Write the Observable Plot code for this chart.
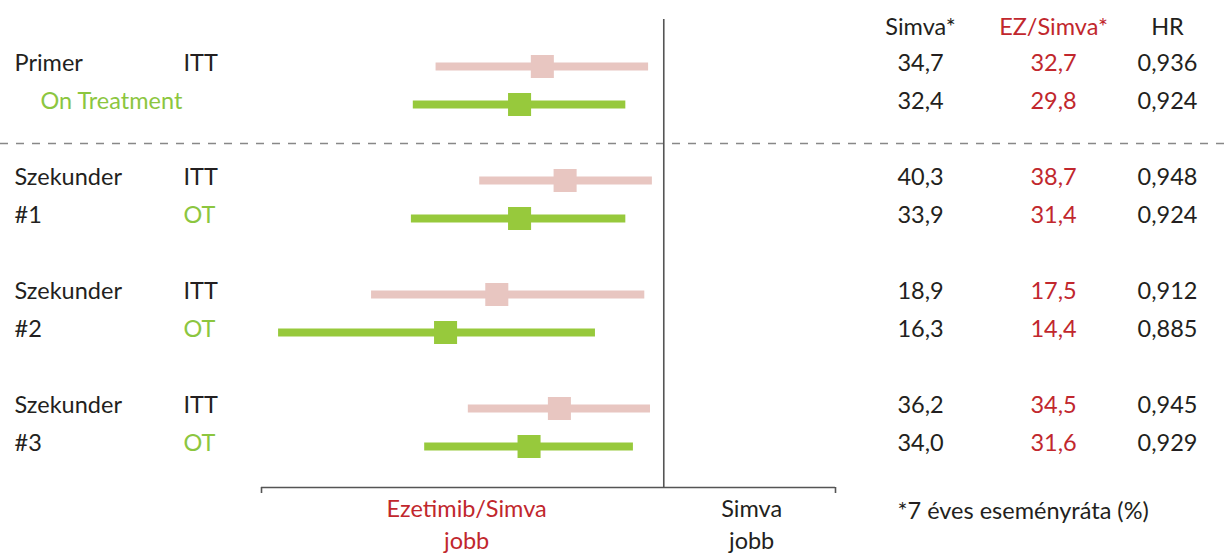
<!DOCTYPE html>
<html>
<head>
<meta charset="utf-8">
<script src="https://cdn.jsdelivr.net/npm/d3@7"></script>
<script src="https://cdn.jsdelivr.net/npm/@observablehq/plot@0.6"></script>
<style>
  html, body { margin: 0; padding: 0; background: #fff; }
  #chart svg { display: block; }
</style>
</head>
<body>
<div id="chart"></div>
<script>
// ---- data ----
const rowIds = ["P-ITT", "P-OT", "S1-ITT", "S1-OT", "S2-ITT", "S2-OT", "S3-ITT", "S3-OT"];
const groupLabels = ["Primer", "", "Szekunder", "#1", "Szekunder", "#2", "Szekunder", "#3"];
const popLabels = ["ITT", "On Treatment", "ITT", "OT", "ITT", "OT", "ITT", "OT"];
const population = ["ITT", "OT", "ITT", "OT", "ITT", "OT", "ITT", "OT"];
const hr = [0.936, 0.924, 0.948, 0.924, 0.912, 0.885, 0.945, 0.929];
const ciLow = [0.880, 0.868, 0.903, 0.867, 0.846, 0.797, 0.897, 0.874];
const ciHigh = [0.992, 0.980, 0.994, 0.980, 0.990, 0.964, 0.993, 0.984];
const simvaRate = [34.7, 32.4, 40.3, 33.9, 18.9, 16.3, 36.2, 34.0];
const ezSimvaRate = [32.7, 29.8, 38.7, 31.4, 17.5, 14.4, 34.5, 31.6];
const headers = ["Simva*", "EZ/Simva*", "HR"];
const xDomain = [0.788, 1.0905];
const betterLabels = ["Ezetimib/Simva\njobb", "Simva\njobb"];
const footnote = "*7 éves eseményráta (%)";

// ---- styling ----
const dark = "#231f20";
const red = "#c1272d";
const green = "#8cc63f";
const colors = {ITT: "#e8c6c1", OT: "#97c93c"};
const fs = 23.5;
const font = "Lato, 'Open Sans', sans-serif";

const rows = rowIds.map((id, i) => ({
  id, group: groupLabels[i], pop: popLabels[i], population: population[i],
  hr: hr[i], lo: ciLow[i], hi: ciHigh[i],
  simva: simvaRate[i], ez: ezSimvaRate[i]
}));

const yDomain = ["hdr", "P-ITT", "P-OT", "gap1", "S1-ITT", "S1-OT", "gap2",
                 "S2-ITT", "S2-OT", "gap3", "S3-ITT", "S3-OT", "axis"];

const fmt1 = v => v.toFixed(1).replace(".", ",");
const fmt3 = v => v.toFixed(3).replace(".", ",");

const colX = [920, 1053, 1167];
const headerData = headers.map((h, i) => ({h, i}));

const chart = Plot.plot({
  width: 1232,
  height: 554,
  marginLeft: 0,
  marginRight: 0,
  marginTop: 19,
  marginBottom: 67,
  style: {fontFamily: font, fontSize: fs + "px", color: dark, background: "#fff"},
  x: {domain: xDomain, range: [261, 835], axis: null},
  y: {type: "point", domain: yDomain, range: [25, 481], padding: 0, axis: null},
  marks: [
    // dashed separator between primary and secondary
    Plot.ruleY(["gap1"], {stroke: "#888", strokeWidth: 1.5, strokeDasharray: "8,8", dy: 4}),
    // reference line at HR = 1
    Plot.ruleX([1], {stroke: "#555", strokeWidth: 1.6}),
    // axis line and end ticks
    Plot.ruleY(["axis"], {x1: xDomain[0], x2: xDomain[1], stroke: "#555", strokeWidth: 1.6, dy: 6}),
    Plot.axisX({ticks: xDomain, tickSize: 6, tickFormat: () => "", stroke: "#555", strokeWidth: 1.6}),
    // confidence intervals
    Plot.ruleY(rows, {y: "id", x1: "lo", x2: "hi", stroke: d => colors[d.population], strokeWidth: 8, dy: 3}),
    // point estimates
    Plot.dot(rows, {y: "id", x: "hr", symbol: "square", r: 13, fill: d => colors[d.population], stroke: null, dy: 3}),
    // left labels
    Plot.text(rows.filter(d => d.group), {y: "id", text: "group", frameAnchor: "left", dx: 14, textAnchor: "start", fill: dark, fontSize: fs}),
    Plot.text(rows.filter(d => d.group), {y: "id", text: "pop", frameAnchor: "left", dx: 183, textAnchor: "start",
      fill: d => d.population === "OT" ? green : dark, fontSize: fs}),
    Plot.text(rows.filter(d => !d.group), {y: "id", text: "pop", frameAnchor: "left", dx: 40, textAnchor: "start", fill: green, fontSize: fs}),
    // headers
    ...headerData.map(d => Plot.text([d], {y: () => "hdr", text: "h", frameAnchor: "left", dx: colX[d.i], textAnchor: "middle",
      fill: d.i === 1 ? red : dark, fontSize: fs, dy: 2})),
    // value columns
    Plot.text(rows, {y: "id", text: d => fmt1(d.simva), frameAnchor: "left", dx: colX[0], textAnchor: "middle", fill: dark, fontSize: fs}),
    Plot.text(rows, {y: "id", text: d => fmt1(d.ez), frameAnchor: "left", dx: colX[1], textAnchor: "middle", fill: red, fontSize: fs}),
    Plot.text(rows, {y: "id", text: d => fmt3(d.hr), frameAnchor: "left", dx: colX[2], textAnchor: "middle", fill: dark, fontSize: fs}),
    // "better" labels under the axis
    Plot.text([0], {x: () => (xDomain[0] + 1) / 2, y: () => "axis", text: () => betterLabels[0], fill: red, fontSize: fs, lineHeight: 1.4, dy: 41, dx: 4}),
    Plot.text([0], {x: () => (1 + xDomain[1]) / 2, y: () => "axis", text: () => betterLabels[1], fill: dark, fontSize: fs, lineHeight: 1.4, dy: 41, dx: 2}),
    // footnote
    Plot.text([footnote], {y: () => "axis", text: d => d, frameAnchor: "left", dx: 897, textAnchor: "start", fill: dark, fontSize: fs, dy: 30})
  ]
});

document.getElementById("chart").appendChild(chart);
</script>
</body>
</html>
